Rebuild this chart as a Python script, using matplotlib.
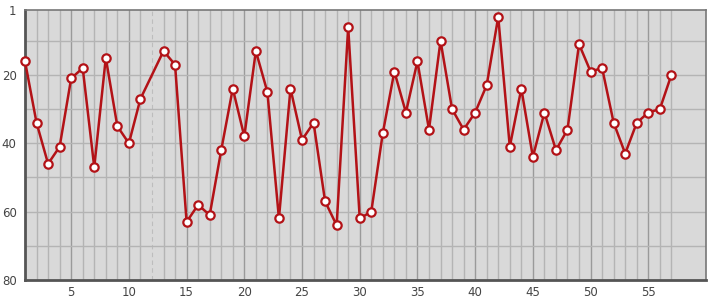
import numpy as np
import matplotlib.pyplot as plt

# positions 1..57, position 12 has no value
x_vals = list(range(1, 58))
ranks = [16, 34, 46, 41, 21, 18, 47, 15, 35, 40,
         27, None, 13, 17, 63, 58, 61, 42, 24, 38,
         13, 25, 62, 24, 39, 34, 57, 64, 6, 62,
         60, 37, 19, 31, 16, 36, 10, 30, 36, 31,
         23, 3, 41, 24, 44, 31, 42, 36, 11, 19,
         18, 34, 43, 34, 31, 30, 20]
y_ticks = [1, 20, 40, 60, 80]
x_ticks = [5, 10, 15, 20, 25, 30, 35, 40, 45, 50, 55]

xs = [x for x, r in zip(x_vals, ranks) if r is not None]
ys = [r for r in ranks if r is not None]
missing = [x for x, r in zip(x_vals, ranks) if r is None]

fig = plt.figure(figsize=(7.15, 3.0), dpi=100)
ax = fig.add_axes([25 / 715, 20 / 300, 681 / 715, 270 / 300])
ax.set_facecolor('#d9d9d9')

ax.set_xlim(1, 60)
ax.set_ylim(80, 1)

# grid
for x in x_vals:
    if x in missing:
        ax.axvline(x, color='#bdbdbd', lw=0.8, ls=(0, (4, 3)), zorder=1)
    elif x % 5 == 0:
        ax.axvline(x, color='#9a9a9a', lw=1.0, zorder=1)
    else:
        ax.axvline(x, color='#b4b4b4', lw=1.0, zorder=1)
for y in range(10, 80, 10):
    ax.axhline(y, color='#b4b4b4', lw=1.0, zorder=1)

ax.plot(xs, ys, color='#b31217', lw=1.8, marker='o', markersize=6,
        markerfacecolor='white', markeredgecolor='#b31217',
        markeredgewidth=1.6, zorder=3, clip_on=False)

ax.set_xticks(x_ticks)
ax.set_yticks(y_ticks)
ax.tick_params(length=0, labelsize=8.5, labelcolor='#444444', pad=4)
ax.tick_params(axis='y', pad=6)

for side in ['left', 'bottom']:
    ax.spines[side].set_color('#555555')
    ax.spines[side].set_linewidth(2.0)
for side in ['top', 'right']:
    ax.spines[side].set_color('#777777')
    ax.spines[side].set_linewidth(1.2)

fig.savefig('out.png', dpi=100)
